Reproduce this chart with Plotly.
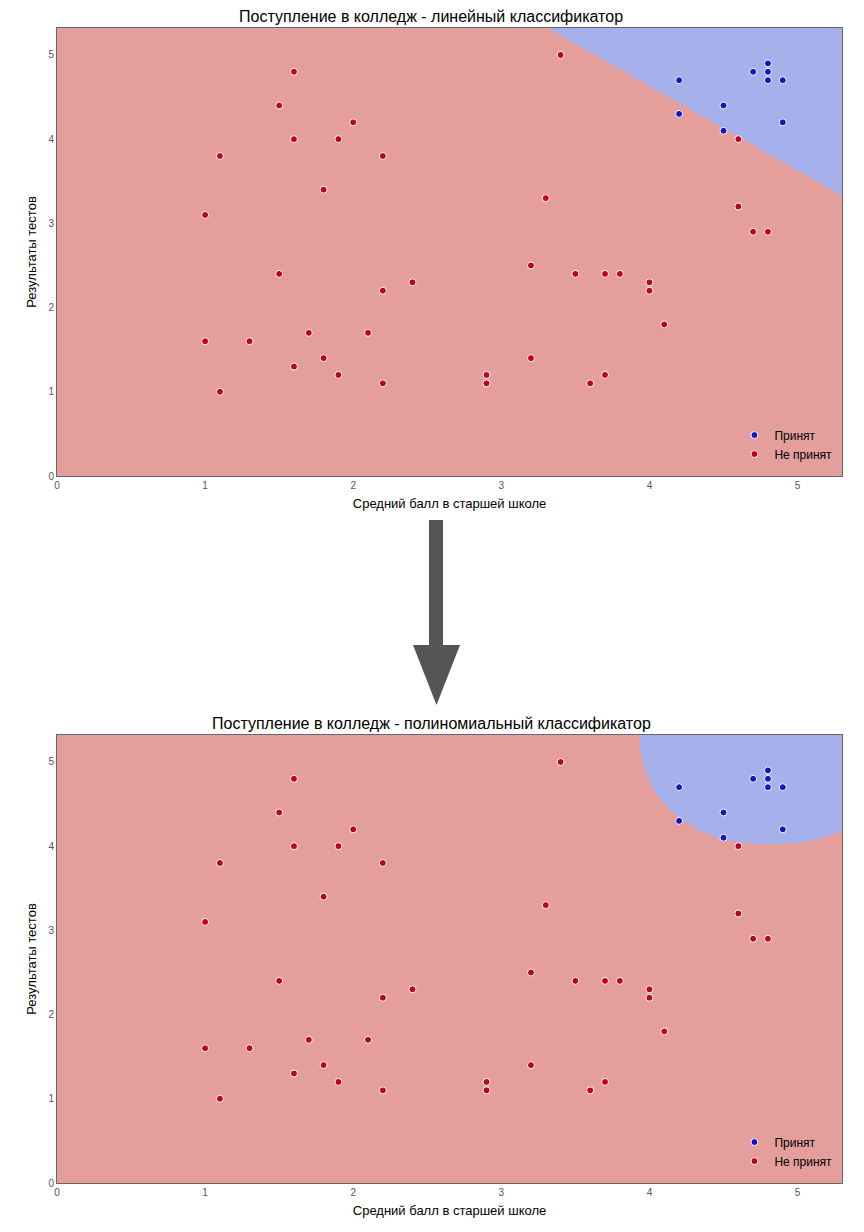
import numpy as np
import plotly.graph_objects as go

W, H = 864, 1232
rej_x = [3.4,1.6,1.5,2.0,1.6,1.9,4.6,1.1,2.2,1.8,3.3,4.6,1.0,4.7,4.8,3.2,1.5,3.5,3.7,3.8,2.4,4.0,2.2,4.0,4.1,1.7,2.1,1.0,1.3,1.8,3.2,1.6,1.9,2.9,3.7,2.2,2.9,3.6,1.1]
rej_y = [5.0,4.8,4.4,4.2,4.0,4.0,4.0,3.8,3.8,3.4,3.3,3.2,3.1,2.9,2.9,2.5,2.4,2.4,2.4,2.4,2.3,2.3,2.2,2.2,1.8,1.7,1.7,1.6,1.6,1.4,1.4,1.3,1.2,1.2,1.2,1.1,1.1,1.1,1.0]
acc_x = [4.2,4.7,4.8,4.8,4.8,4.9,4.5,4.2,4.9,4.5]
acc_y = [4.7,4.8,4.9,4.8,4.7,4.7,4.4,4.3,4.2,4.1]
titles = ["Поступление в колледж - линейный классификатор",
          "Поступление в колледж - полиномиальный классификатор"]
xlabel = "Средний балл в старшей школе"
ylabel = "Результаты тестов"

gx = np.linspace(0, 5.3, 400)
gy = np.linspace(0, 5.32, 400)
GX, GY = np.meshgrid(gx, gy)
z_lin = (GX + GY > 8.63).astype(float)
z_poly = (np.abs((GX - 4.82) / 0.88) ** 2.3 + np.abs((GY - 5.25) / 1.23) ** 2 < 1).astype(float)

RED_BG, BLUE_BG = "#e49e9c", "#a6b0ea"
RED_PT, BLUE_PT = "#c2001c", "#1414c8"
cs = [[0, RED_BG], [1, BLUE_BG]]

OX, OY = 8, 8  # page body offset
fig = go.Figure()
doms = [(1 - (476 - OY) / H, 1 - (28 - OY) / H), (1 - (1183 - OY) / H, 1 - (735 - OY) / H)]
xd = [(57 - OX) / W, (842 - OX) / W]
for i, z in enumerate([z_lin, z_poly]):
    xa = "x" if i == 0 else "x2"
    ya = "y" if i == 0 else "y2"
    lg = "legend" if i == 0 else "legend2"
    fig.add_trace(go.Heatmap(x=gx, y=gy, z=z, colorscale=cs, zmin=0, zmax=1,
                             showscale=False, hoverinfo="skip", xaxis=xa, yaxis=ya))
    fig.add_trace(go.Scatter(x=acc_x, y=acc_y, mode="markers", name="Принят",
                             marker=dict(color=BLUE_PT, size=7, line=dict(color="white", width=1)),
                             xaxis=xa, yaxis=ya, legend=lg))
    fig.add_trace(go.Scatter(x=rej_x, y=rej_y, mode="markers", name="Не принят",
                             marker=dict(color=RED_PT, size=7, line=dict(color="white", width=1)),
                             xaxis=xa, yaxis=ya, legend=lg))
    fig.add_annotation(text=titles[i], xref="paper", yref="paper", x=0.49, y=doms[i][1],
                       yanchor="bottom", showarrow=False, font=dict(size=16, color="black"), yshift=1)

axcommon = dict(showgrid=False, zeroline=False, showline=True, mirror=True, linecolor="#666",
                linewidth=1, ticks="", tickfont=dict(size=10, color="#555"), automargin=False)
fig.update_layout(
    width=W, height=H, margin=dict(l=0, r=0, t=0, b=0),
    paper_bgcolor="white", plot_bgcolor="white", font=dict(family="Liberation Sans"),
    xaxis=dict(domain=xd, range=[0, 5.3], dtick=1, anchor="y",
               title=dict(text=xlabel, font=dict(size=13, color="black"), standoff=8), **axcommon),
    yaxis=dict(domain=doms[0], range=[0, 5.32], dtick=1, anchor="x",
               title=dict(text=ylabel, font=dict(size=13, color="black"), standoff=8), **axcommon),
    xaxis2=dict(domain=xd, range=[0, 5.3], dtick=1, anchor="y2",
                title=dict(text=xlabel, font=dict(size=13, color="black"), standoff=8), **axcommon),
    yaxis2=dict(domain=doms[1], range=[0, 5.32], dtick=1, anchor="x2",
                title=dict(text=ylabel, font=dict(size=13, color="black"), standoff=8), **axcommon),
    legend=dict(x=0.96, y=doms[0][0] + 0.045, xanchor="right", yanchor="top",
                bgcolor="rgba(0,0,0,0)", font=dict(size=12, color="black"), tracegroupgap=0),
    legend2=dict(x=0.96, y=doms[1][0] + 0.045, xanchor="right", yanchor="top",
                 bgcolor="rgba(0,0,0,0)", font=dict(size=12, color="black"), tracegroupgap=0),
)

def py(p):
    return 1 - (p - OY) / H
fig.add_shape(type="rect", xref="paper", yref="paper", x0=(429 - OX) / W, x1=(443 - OX) / W,
              y0=py(648), y1=py(520), fillcolor="#555", line=dict(width=0))
fig.add_shape(type="path", xref="paper", yref="paper",
              path=f"M {(413-OX)/W},{py(645)} L {(460-OX)/W},{py(645)} L {(436.5-OX)/W},{py(705)} Z",
              fillcolor="#555", line=dict(width=0))

fig.write_html("out.html")
